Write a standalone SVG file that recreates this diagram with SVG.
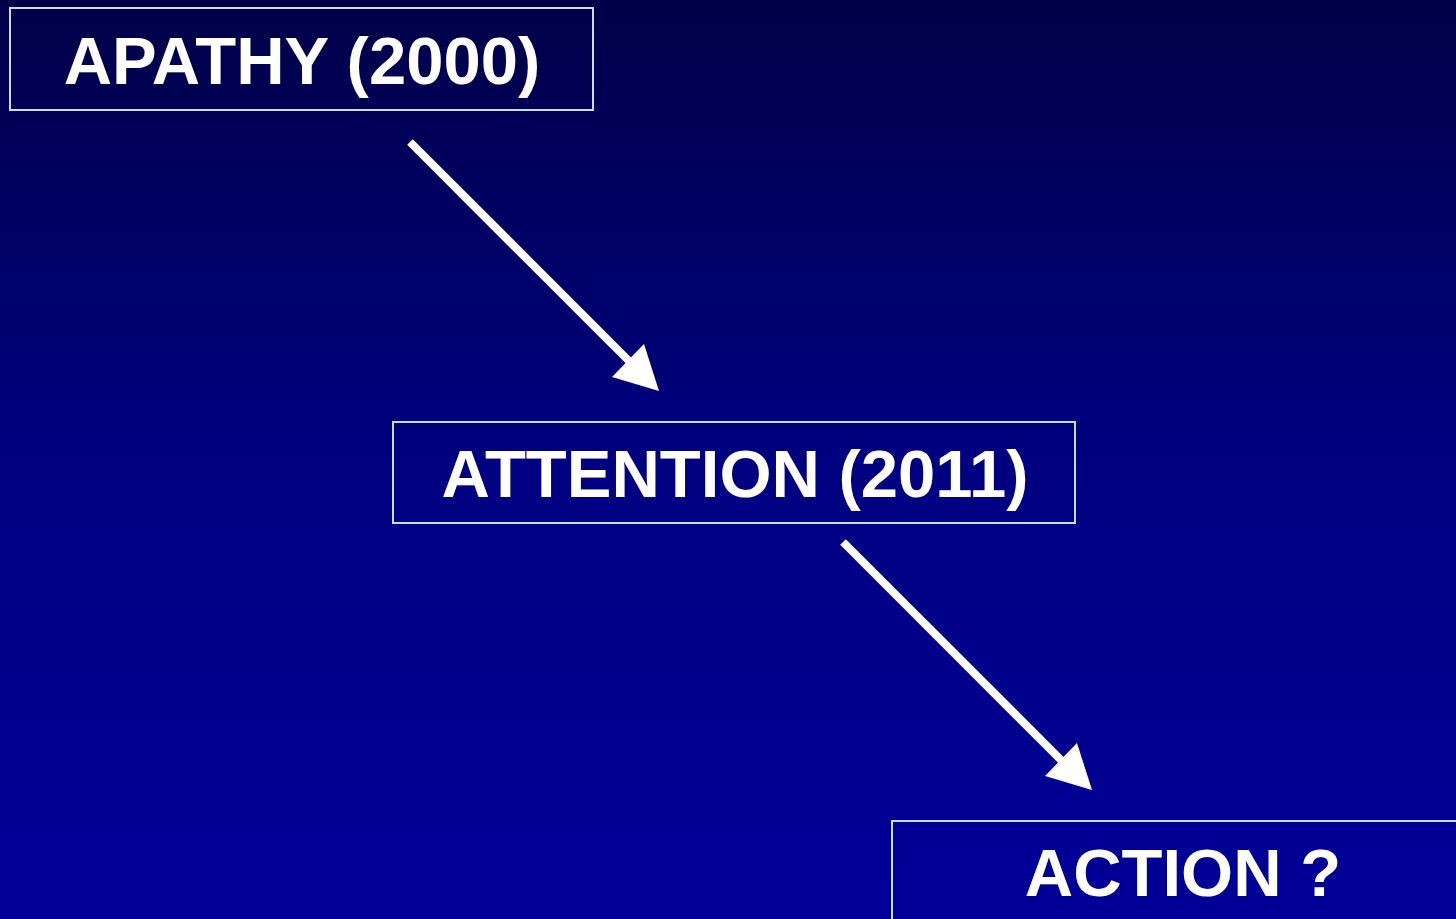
<svg xmlns="http://www.w3.org/2000/svg" width="1456" height="919" viewBox="0 0 1456 919">
<defs>
<linearGradient id="bg" x1="0" y1="0" x2="0" y2="1">
<stop offset="0" stop-color="#000048"/>
<stop offset="0.5" stop-color="#000080"/>
<stop offset="1" stop-color="#000098"/>
</linearGradient>
<style>
.box{fill:none;stroke:#c8dcf4;stroke-width:2}
.lbl{font-family:"Liberation Sans",Arial,sans-serif;font-weight:bold;font-size:67px;fill:#ffffff;text-anchor:middle}
.conn{stroke:#ffffff;stroke-width:8;fill:none}
.head{fill:#ffffff}
</style>
</defs>
<rect width="1456" height="919" fill="url(#bg)"/>
<g id="apathy">
<rect class="box" x="10" y="8" width="583" height="102"/>
<text class="lbl" x="302" y="84">APATHY (2000)</text>
</g>
<g id="attention">
<rect class="box" x="393" y="422" width="682" height="101"/>
<text class="lbl" x="735" y="497">ATTENTION (2011)</text>
</g>
<g id="action">
<rect class="box" x="892" y="821" width="583" height="110"/>
<text class="lbl" x="1183" y="896">ACTION ?</text>
</g>
<g id="connectors">
<line class="conn" x1="410" y1="142" x2="630" y2="362"/>
<polygon class="head" points="612,377 644,344 659,391"/>
<line class="conn" x1="843" y1="542" x2="1063" y2="762"/>
<polygon class="head" points="1045,776 1077,743 1092,790"/>
</g>
</svg>
